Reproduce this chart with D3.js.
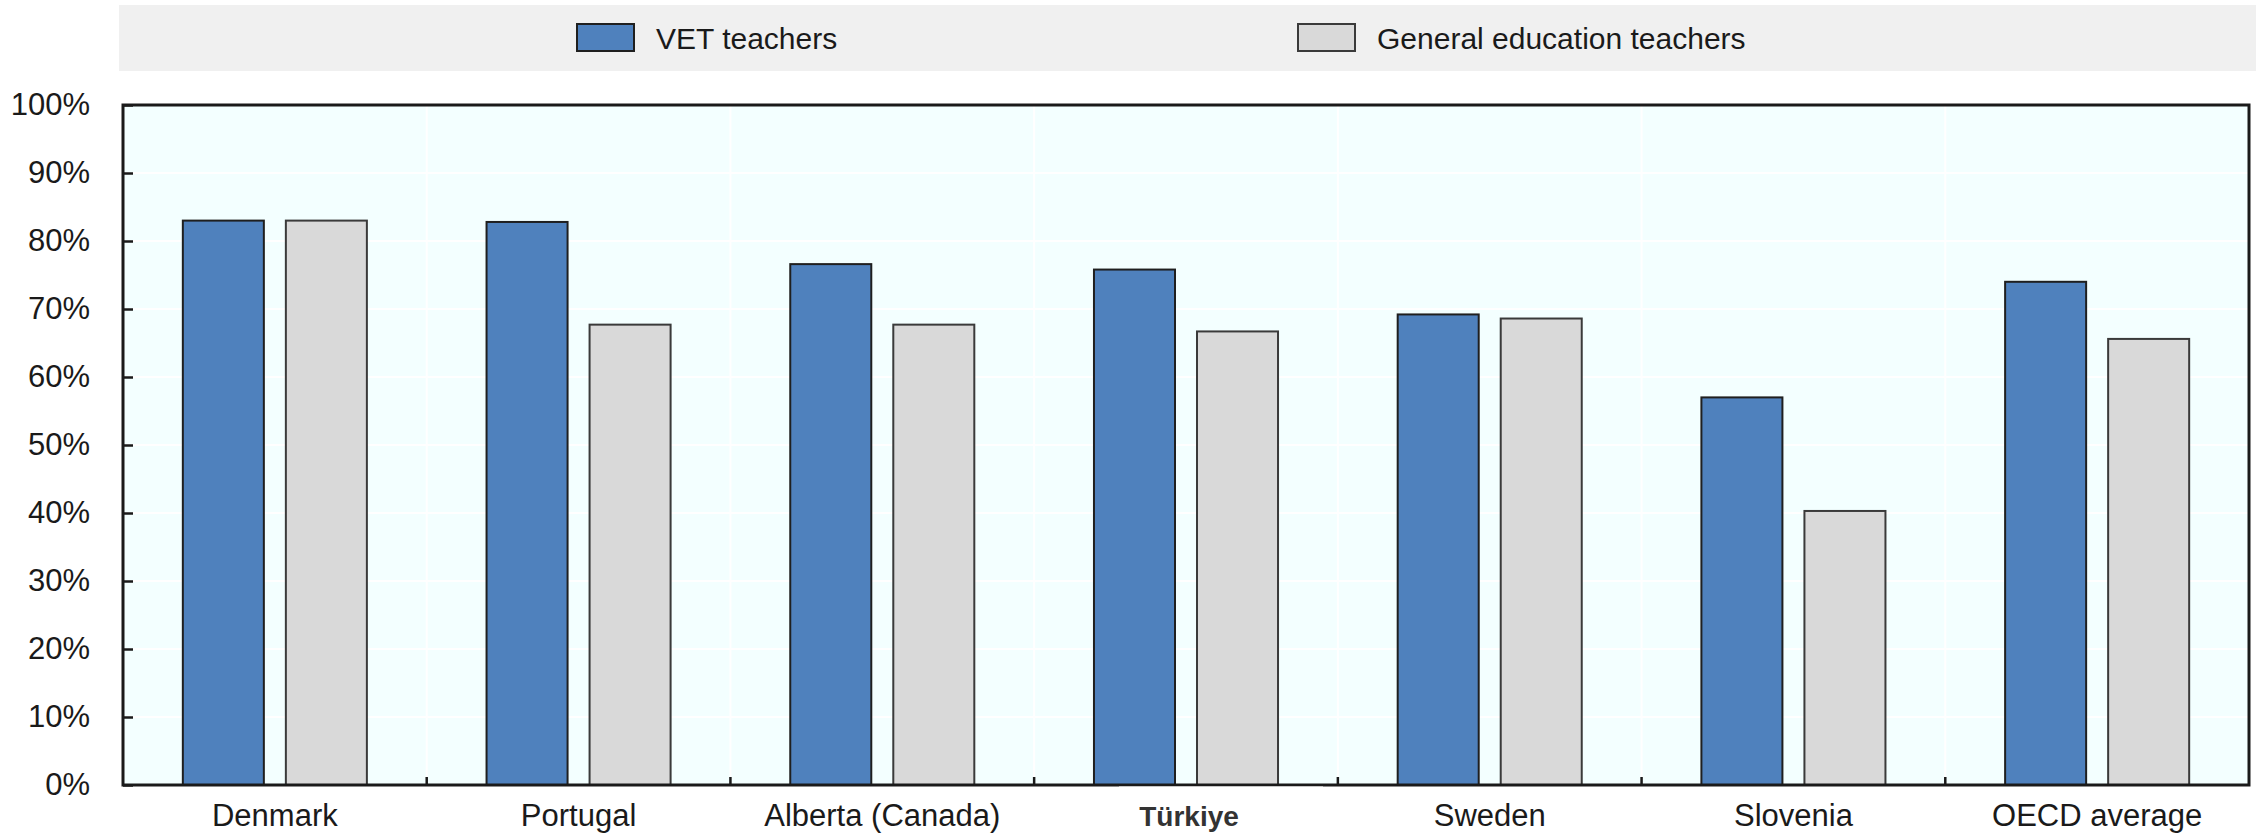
<!DOCTYPE html>
<html>
<head>
<meta charset="utf-8">
<script src="https://cdn.jsdelivr.net/npm/d3@7"></script>
<style>
  body { margin: 0; background: #fff; }
  svg { display: block; font-family: "Liberation Sans", Arial, sans-serif; }
</style>
</head>
<body>
<div id="chart"></div>
<script>
// data
const categories = ['Denmark', 'Portugal', 'Alberta (Canada)', 'Türkiye', 'Sweden', 'Slovenia', 'OECD average'];
const vetValues = [83.0, 82.8, 76.6, 75.8, 69.2, 57.0, 74.0];
const generalValues = [83.0, 67.7, 67.7, 66.7, 68.6, 40.3, 65.6];
const seriesNames = ['VET teachers', 'General education teachers'];
const yTicks = [0, 10, 20, 30, 40, 50, 60, 70, 80, 90, 100];

const width = 2256;
const height = 833;
const margin = { top: 105, right: 7, bottom: 48, left: 123 };
const colors = { 'VET teachers': '#4f81bd', 'General education teachers': '#d9d9d9' };
const strokes = { 'VET teachers': '#1f1f1f', 'General education teachers': '#3a3a3a' };

const svg = d3.select('#chart').append('svg')
    .attr('width', width)
    .attr('height', height);

// legend band
const legend = svg.append('g');
legend.append('rect')
    .attr('x', 119).attr('y', 5)
    .attr('width', width - 119).attr('height', 66)
    .attr('fill', '#f0f0f0');

const legendX = [577, 1298];
seriesNames.forEach((name, i) => {
    legend.append('rect')
        .attr('x', legendX[i]).attr('y', 24)
        .attr('width', 57).attr('height', 27)
        .attr('fill', colors[name])
        .attr('stroke', strokes[name])
        .attr('stroke-width', 2);
    legend.append('text')
        .attr('x', legendX[i] + 79).attr('y', 38)
        .attr('dy', '0.36em')
        .attr('font-size', 30)
        .attr('fill', '#1a1a1a')
        .text(name);
});

const chartWidth = width - margin.left - margin.right;
const chartHeight = height - margin.top - margin.bottom;

const g = svg.append('g')
    .attr('transform', `translate(${margin.left},${margin.top})`);

// scales
const x0 = d3.scaleBand()
    .domain(categories)
    .range([0, chartWidth])
    .paddingInner(0.394)
    .paddingOuter(0.197);

const x1 = d3.scaleBand()
    .domain(seriesNames)
    .range([0, x0.bandwidth()])
    .paddingInner(0.2136)
    .paddingOuter(0);

const y = d3.scaleLinear()
    .domain([0, 100])
    .range([chartHeight, 0]);

// plot background
g.append('rect')
    .attr('width', chartWidth).attr('height', chartHeight)
    .attr('fill', '#f3ffff');

// white grid
g.selectAll('.hgrid')
    .data(yTicks.slice(1, -1))
    .enter().append('line')
    .attr('x1', 0).attr('x2', chartWidth)
    .attr('y1', d => y(d)).attr('y2', d => y(d))
    .attr('stroke', '#fff').attr('stroke-width', 2);

const boundaries = d3.range(1, categories.length).map(i => i * x0.step());
g.selectAll('.vgrid')
    .data(boundaries)
    .enter().append('line')
    .attr('x1', d => d).attr('x2', d => d)
    .attr('y1', 0).attr('y2', chartHeight)
    .attr('stroke', '#fff').attr('stroke-width', 2);

// bars
const rows = categories.map((c, i) => ({
    category: c,
    values: [
        { series: seriesNames[0], value: vetValues[i] },
        { series: seriesNames[1], value: generalValues[i] }
    ]
}));

const groups = g.selectAll('.group')
    .data(rows)
    .enter().append('g')
    .attr('transform', d => `translate(${x0(d.category)},0)`);

groups.selectAll('rect')
    .data(d => d.values)
    .enter().append('rect')
    .attr('x', d => x1(d.series))
    .attr('y', d => y(d.value))
    .attr('width', x1.bandwidth())
    .attr('height', d => chartHeight - y(d.value))
    .attr('fill', d => colors[d.series])
    .attr('stroke', d => strokes[d.series])
    .attr('stroke-width', 2);

// x tick marks between categories (pointing up)
g.selectAll('.xtick')
    .data(boundaries)
    .enter().append('line')
    .attr('x1', d => d).attr('x2', d => d)
    .attr('y1', chartHeight).attr('y2', chartHeight - 8)
    .attr('stroke', '#1a1a1a').attr('stroke-width', 2.5);

// y axis (ticks pointing inside)
const yAxis = g.append('g')
    .call(d3.axisLeft(y).tickValues(yTicks).tickFormat(d => d + '%')
        .tickSizeInner(-10).tickSizeOuter(0).tickPadding(33));
yAxis.select('.domain').remove();
yAxis.selectAll('line').attr('stroke', '#1a1a1a').attr('stroke-width', 2.5);
yAxis.selectAll('text')
    .attr('font-size', 31)
    .attr('font-family', '"Liberation Sans", Arial, sans-serif')
    .attr('fill', '#1a1a1a')
    .attr('dy', '0.3em');

// x axis labels
const xAxis = g.append('g')
    .attr('transform', `translate(0,${chartHeight})`)
    .call(d3.axisBottom(x0).tickSize(0).tickPadding(19));
xAxis.select('.domain').remove();

// white patch behind the Türkiye label
xAxis.selectAll('.tick')
    .filter(d => d === 'Türkiye')
    .insert('rect', 'text')
    .attr('x', -67).attr('y', 1)
    .attr('width', 204).attr('height', 60)
    .attr('fill', '#fff');

xAxis.selectAll('text')
    .attr('font-size', 31)
    .attr('font-family', '"Liberation Sans", Arial, sans-serif')
    .attr('fill', '#1a1a1a');

xAxis.selectAll('.tick')
    .filter(d => d === 'Türkiye')
    .select('text')
    .attr('font-size', 28)
    .attr('font-weight', 'bold')
    .attr('fill', '#333')
    .attr('x', 3)
    .attr('y', 21);

// frame
g.append('rect')
    .attr('width', chartWidth).attr('height', chartHeight)
    .attr('fill', 'none')
    .attr('stroke', '#1a1a1a')
    .attr('stroke-width', 3);

// the Türkiye patch covers part of the bottom line
g.append('rect')
    .attr('x', x0('Türkiye') + x0.bandwidth() / 2 - 67)
    .attr('y', chartHeight + 1.5)
    .attr('width', 204).attr('height', 4)
    .attr('fill', '#fff');
</script>
</body>
</html>
